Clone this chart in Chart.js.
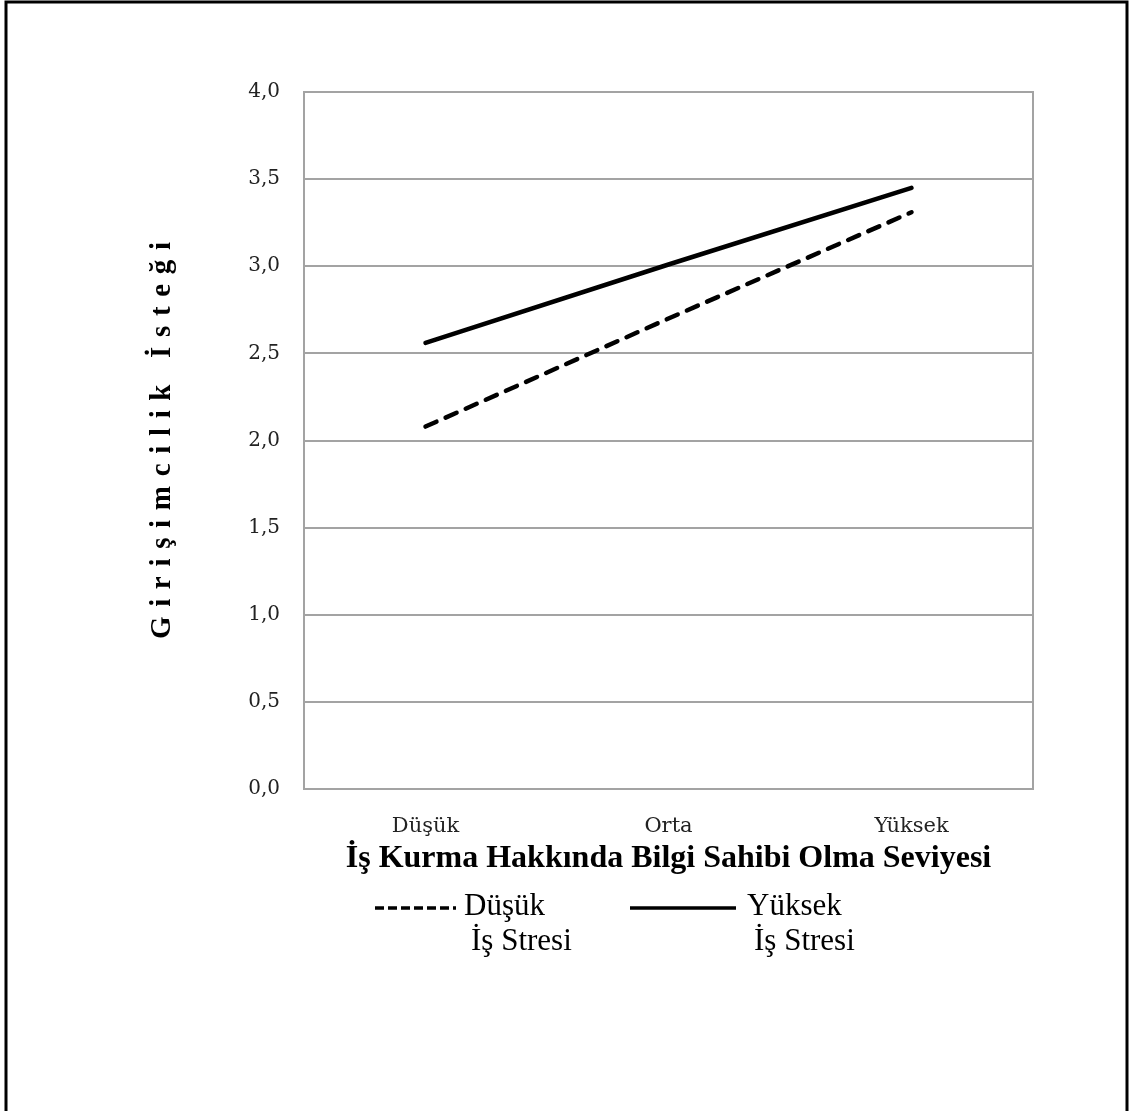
<!DOCTYPE html>
<html>
<head>
<meta charset="utf-8">
<script src="https://cdn.jsdelivr.net/npm/chart.js@4.4.1/dist/chart.umd.min.js"></script>
<style>
  body { margin: 0; background: #fff; }
  #wrap { width: 1129px; height: 1111px; }
</style>
</head>
<body>
<div id="wrap"><canvas id="canvas" width="1129" height="1111"></canvas></div>
<script>
// bilgi seviyesi (x ekseni)
const categories = ['Düşük', 'Orta', 'Yüksek']
const dusukStres = [2.08, 2.70, 3.31]
const yuksekStres = [2.56, 3.01, 3.45]
const legendLabels = [['Düşük', 'İş Stresi'], ['Yüksek', 'İş Stresi']]
const xTitle = 'İş Kurma Hakkında Bilgi Sahibi Olma Seviyesi'
const yTitle = 'Girişimcilik İsteği'.split('').join('\u2004')

const GRID = '#a3a3a3'

// çerçeve + alt lejant
const framePlugin = {
  id: 'frame',
  beforeDatasetsDraw(chart) {
    const { ctx, chartArea } = chart
    ctx.save()
    ctx.strokeStyle = GRID
    ctx.lineWidth = 2
    ctx.strokeRect(chartArea.left, chartArea.top, chartArea.right - chartArea.left, chartArea.bottom - chartArea.top)
    ctx.restore()
  },
  afterDraw(chart) {
    const ctx = chart.ctx
    ctx.save()
    // dış siyah kenar
    ctx.strokeStyle = '#000'
    ctx.lineWidth = 3
    ctx.beginPath()
    ctx.moveTo(6, 1111)
    ctx.lineTo(6, 2)
    ctx.lineTo(1127, 2)
    ctx.lineTo(1127, 1111)
    ctx.stroke()

    const items = [
      { x1: 375, x2: 456, tx: 464, tx2: 471 },
      { x1: 630, x2: 736, tx: 747, tx2: 754 }
    ]
    ctx.font = '31px "Liberation Serif"'
    ctx.textBaseline = 'middle'
    ctx.fillStyle = '#000'
    chart.data.datasets.forEach((ds, i) => {
      const it = items[i]
      ctx.strokeStyle = ds.borderColor
      ctx.lineWidth = 3.5
      ctx.lineCap = 'butt'
      ctx.setLineDash(ds.borderDash && ds.borderDash.length ? [9, 4] : [])
      ctx.beginPath()
      ctx.moveTo(it.x1, 908)
      ctx.lineTo(it.x2, 908)
      ctx.stroke()
      ctx.setLineDash([])
      ctx.fillText(legendLabels[i][0], it.tx, 907)
      ctx.fillText(legendLabels[i][1], it.tx2, 942)
    })
    ctx.restore()
  }
}

new Chart(document.getElementById('canvas'), {
  type: 'line',
  data: {
    labels: categories,
    datasets: [{
      label: 'Düşük İş Stresi',
      data: dusukStres,
      borderColor: '#000',
      borderWidth: 4.5,
      borderDash: [12, 10],
      borderCapStyle: 'round',
      pointRadius: 0,
      fill: false,
      tension: 0
    }, {
      label: 'Yüksek İş Stresi',
      data: yuksekStres,
      borderColor: '#000',
      borderWidth: 4.5,
      borderCapStyle: 'round',
      pointRadius: 0,
      fill: false,
      tension: 0
    }]
  },
  options: {
    responsive: false,
    animation: false,
    layout: { padding: { top: 92, right: 96, left: 0, bottom: 0 } },
    plugins: { legend: { display: false }, tooltip: { enabled: false } },
    scales: {
      x: {
        offset: true,
        grid: { display: false, drawTicks: false },
        border: { display: false },
        ticks: { padding: 25, color: '#222', font: { family: 'DejaVu Serif', size: 21 } },
        title: {
          display: true, text: xTitle, color: '#000',
          font: { family: 'Liberation Serif', size: 32, weight: 'bold' },
          padding: { bottom: 233 }
        },
        afterFit(scale) { scale.height = 322 }
      },
      y: {
        min: 0, max: 4,
        grid: { color: GRID, lineWidth: 2, drawTicks: false },
        border: { display: false },
        ticks: {
          stepSize: 0.5, padding: 24, color: '#222',
          font: { family: 'DejaVu Serif', size: 20 },
          callback: v => v.toFixed(1).replace('.', ',')
        },
        title: {
          display: true, text: yTitle, color: '#000',
          font: { family: 'Liberation Serif', size: 29, weight: 'bold' },
          padding: { top: 145 }
        },
        afterFit(scale) { scale.width = 304 }
      }
    }
  },
  plugins: [framePlugin]
})
</script>
</body>
</html>
